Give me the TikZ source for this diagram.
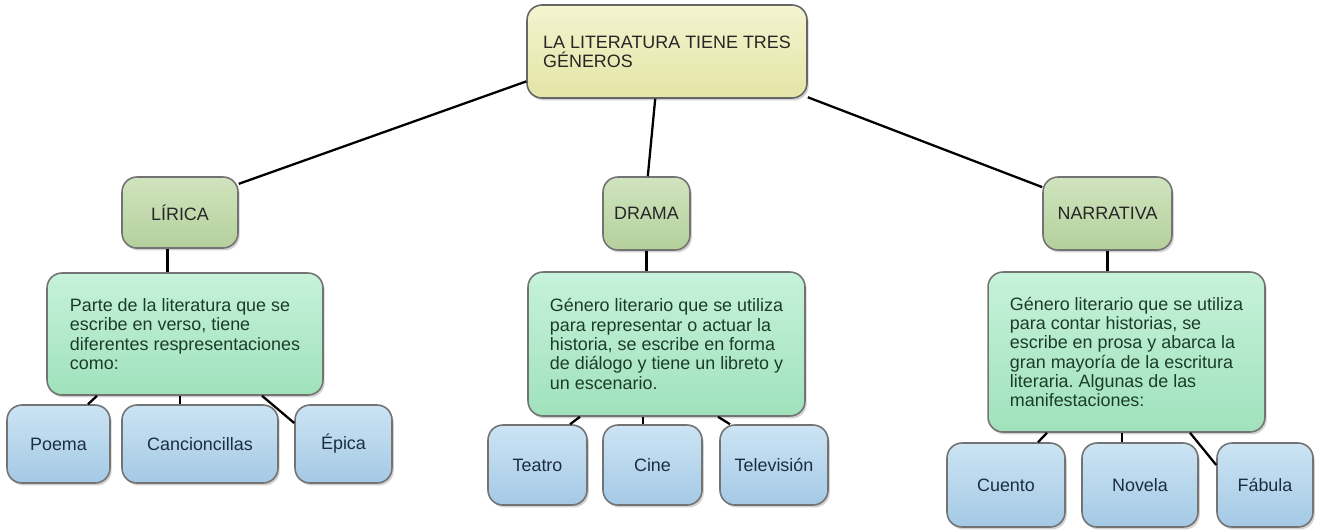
\documentclass[tikz,border=0pt]{standalone}
\usepackage{fontspec}
\setmainfont{Liberation Sans}
\usetikzlibrary{positioning, calc, shadows}

\definecolor{amarilloA}{RGB}{244,244,208}
\definecolor{amarilloB}{RGB}{228,228,166}
\definecolor{verdeA}{RGB}{208,228,190}
\definecolor{verdeB}{RGB}{180,208,156}
\definecolor{mentaA}{RGB}{198,242,218}
\definecolor{mentaB}{RGB}{160,226,188}
\definecolor{azulA}{RGB}{204,228,244}
\definecolor{azulB}{RGB}{164,201,229}

\begin{document}
\begin{tikzpicture}[
        x=0.02cm, y=-0.02cm,
        caja/.style={rectangle, rounded corners=8.5pt, line width=0.9pt, inner sep=0pt, align=left,
            font=\fontsize{10.2}{11}\selectfont\frenchspacing,
            drop shadow={shadow xshift=1pt, shadow yshift=-1.4pt, fill=black!35}},
        titulo/.style={caja, draw=black!60, top color=amarilloA, bottom color=amarilloB, text=black!85},
        genero/.style={caja, draw=black!55, top color=verdeA, bottom color=verdeB, text=black!85},
        texto/.style={caja, draw=black!55, top color=mentaA, bottom color=mentaB, text={rgb,255:red,28;green,60;blue,42}},
        ejemplo/.style={caja, draw=black!55, top color=azulA, bottom color=azulB, text={rgb,255:red,28;green,45;blue,65}},
        enlace/.style={line width=1.3pt, black}
    ]
        \useasboundingbox (0,0) rectangle (1318,529);

        % Titulo
        \node[titulo, minimum width=5.6cm, minimum height=1.86cm] (top) at (667,51.5)
            {LA LITERATURA TIENE TRES\\GÉNEROS};

        % Generos
        \node[genero, minimum width=2.32cm, minimum height=1.42cm] (lir) at (180,212.5) {LÍRICA};
        \node[genero, minimum width=1.74cm, minimum height=1.46cm] (dra) at (646.5,213.5) {DRAMA};
        \node[genero, minimum width=2.58cm, minimum height=1.46cm] (nar) at (1107.5,213.5) {NARRATIVA};

        \draw[enlace] (top.192) -- (lir.26);
        \draw[enlace] (top.256) -- (dra.88);
        \draw[enlace] (top.342) -- (nar.158);

        % Descripciones
        \node[texto, minimum width=5.52cm, minimum height=2.44cm] (dlir) at (185,334)
            {Parte de la literatura que se\\escribe en verso, tiene\\diferentes respresentaciones\\como:};
        \node[texto, minimum width=5.54cm, minimum height=2.88cm] (ddra) at (666.5,344)
            {Género literario que se utiliza\\para representar o actuar la\\historia, se escribe en forma\\de diálogo y tiene un libreto y\\un escenario.};
        \node[texto, minimum width=5.54cm, minimum height=3.2cm] (dnar) at (1126.5,352)
            {Género literario que se utiliza\\para contar historias, se\\escribe en prosa y abarca la\\gran mayoría de la escritura\\literaria. Algunas de las\\manifestaciones:};

        \draw[enlace] (lir.251) -- (lir.251 |- dlir.north);
        \draw[enlace] (dra.south) -- (dra.south |- ddra.north);
        \draw[enlace] (nar.south) -- (nar.south |- dnar.north);

        % Ejemplos
        \foreach \n/\x/\w/\t in {poe/58.5/2.06/Poema, can/200/3.12/Cancioncillas, epi/343.5/1.94/Épica} {
            \node[ejemplo, minimum width=\w cm, minimum height=1.56cm] (\n) at (\x,444) {\t};
        }
        \foreach \n/\x/\w/\t in {tea/537.5/1.98/Teatro, cin/652.5/1.98/Cine, tel/774/2.16/Televisión} {
            \node[ejemplo, minimum width=\w cm, minimum height=1.6cm] (\n) at (\x,465) {\t};
        }
        \foreach \n/\x/\w/\t in {cue/1006/2.36/Cuento, nov/1140/2.32/Novela, fab/1265/1.92/Fábula} {
            \node[ejemplo, minimum width=\w cm, minimum height=1.68cm] (\n) at (\x,485) {\t};
        }

        \draw[enlace] ($(dlir.south)+(-88,0)$) -- ($(poe.north)+(29.5,0)$);
        \draw[enlace] ($(dlir.south)+(-5,0)$) -- ($(can.north)+(-20,0)$);
        \draw[enlace] ($(dlir.south)+(77,0)$) -- ($(epi.west)+(0,-21)$);

        \draw[enlace] ($(ddra.south)+(-86.5,0)$) -- ($(tea.north)+(32.5,0)$);
        \draw[enlace] ($(ddra.south)+(-23.5,0)$) -- ($(cin.north)+(-9.5,0)$);
        \draw[enlace] ($(ddra.south)+(51.5,0)$) -- ($(tel.north)+(-44,0)$);

        \draw[enlace] ($(dnar.south)+(-79.5,0)$) -- ($(cue.north)+(32,0)$);
        \draw[enlace] ($(dnar.south)+(-4.5,0)$) -- ($(nov.north)+(-18,0)$);
        \draw[enlace] ($(dnar.south)+(63.5,0)$) -- ($(fab.west)+(0,-20)$);
    \end{tikzpicture}
\end{document}
